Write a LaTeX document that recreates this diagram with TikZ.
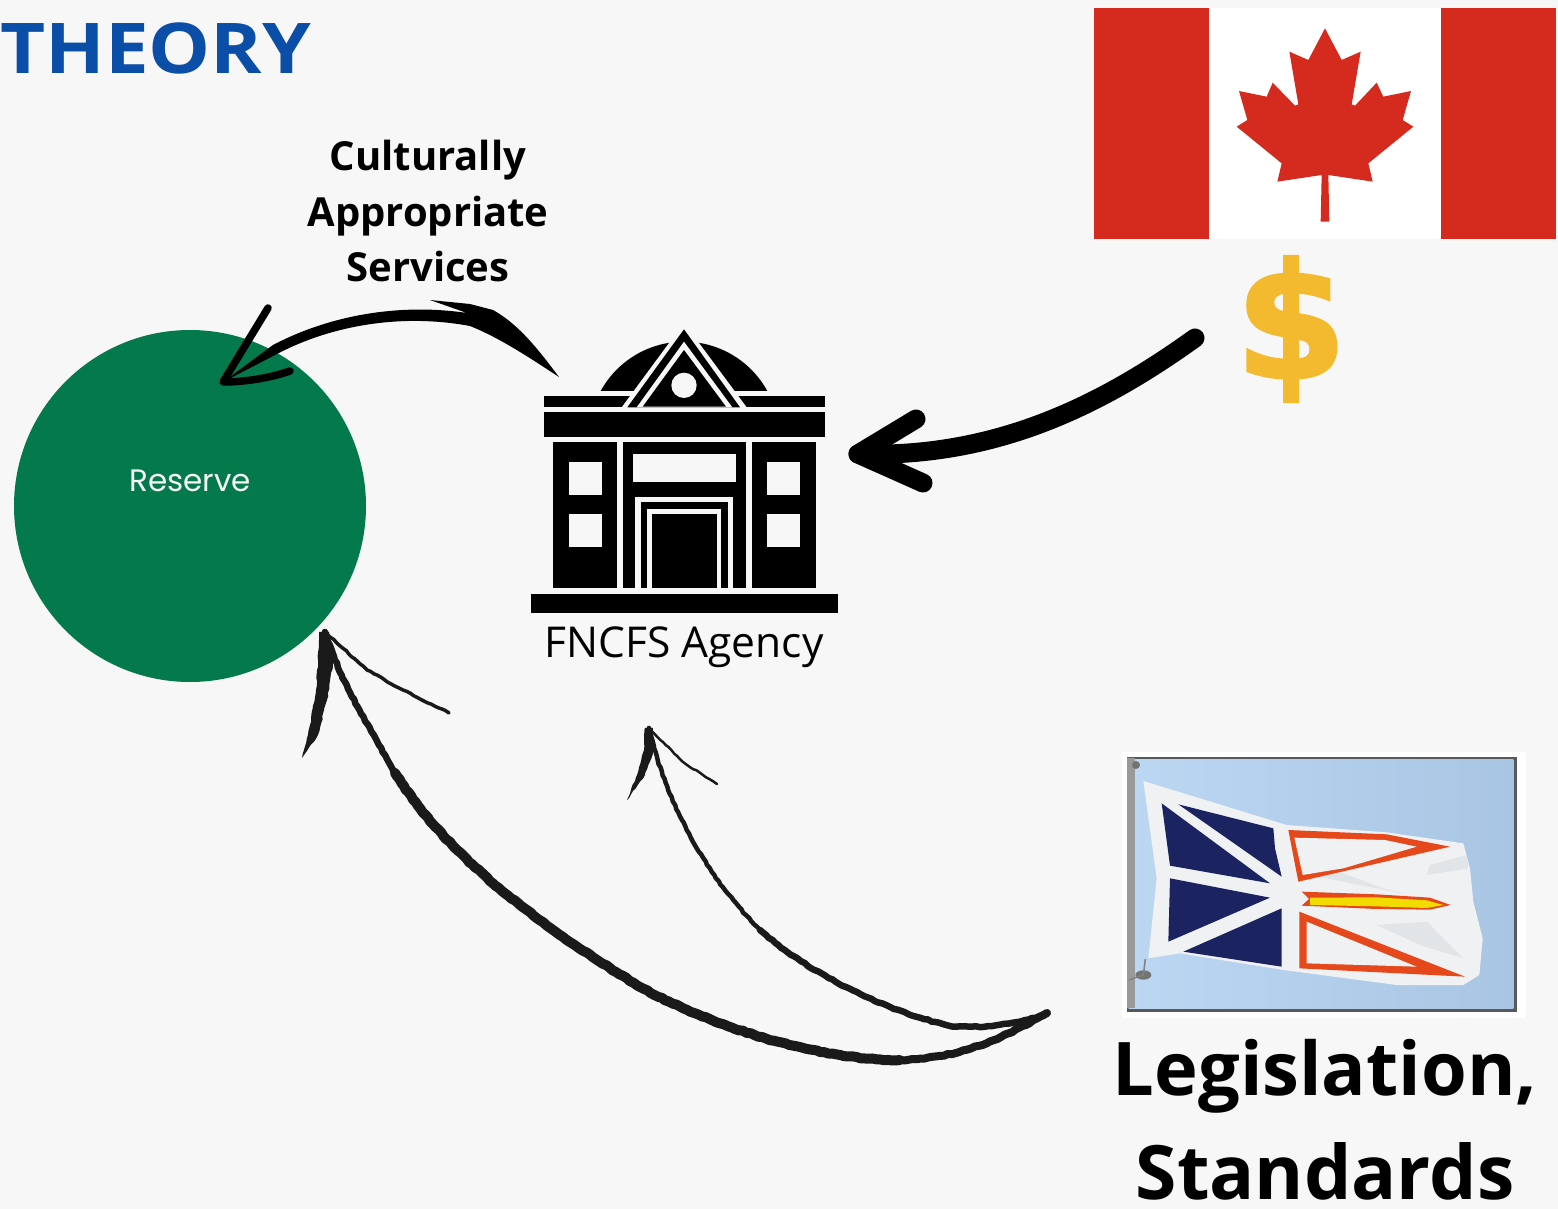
\documentclass[tikz,border=0pt]{standalone}
\usepackage{fontspec}
\setmainfont{Open Sans}
\newfontfamily\dollarfont[BoldFeatures={FakeBold=2}]{DejaVu Sans}
\newfontfamily\reservefont{Poppins}
\usetikzlibrary{decorations.pathmorphing}
\definecolor{bgc}{HTML}{F7F7F7}
\definecolor{greenc}{HTML}{047A4C}
\definecolor{bluec}{HTML}{0B4EA8}
\definecolor{redc}{HTML}{D52B1E}
\definecolor{goldc}{HTML}{F3BA2F}
\definecolor{navyc}{HTML}{1B2360}
\definecolor{orangec}{HTML}{E5481A}
\definecolor{yelc}{HTML}{F2DC00}
\definecolor{flagw}{HTML}{EFF1F2}
\definecolor{foldc}{HTML}{E2E5E8}
\definecolor{inkc}{HTML}{1A1A1A}
\definecolor{skya}{HTML}{BCD7F2}
\definecolor{skyb}{HTML}{A8C5E3}
\tikzset{
  label text/.style={inner sep=0pt,anchor=base,align=center,text=black},
  zoomA/.style={xshift=520pt,yshift=-320pt,x=0.33333pt,y=-0.33333pt},
  zoomB/.style={xshift=1110pt,yshift=-745pt,x=0.33333pt,y=-0.33333pt},
  zoomC/.style={xshift=1190pt,yshift=-10pt,x=0.33333pt,y=-0.33333pt},
  rough/.style={decorate,decoration={random steps,segment length=4pt,amplitude=.6pt}},
  brush/.style={draw=inkc,line cap=round,line join=round,rough},
  gap/.style={fill=bgc},
  heavy/.style={line width=19pt,line cap=round,line join=round}
}
\begin{document}
\begin{tikzpicture}[x=1pt,y=-1pt]
\useasboundingbox (0,0) rectangle (1558,1209);
\fill[bgc] (0,0) rectangle (1558,1209);

% Title
\node[label text,text=bluec,anchor=base west,font=\fontsize{70}{70}\selectfont\bfseries] (title) at (0,74) {\scalebox{1.115}[1]{THEORY}};

% Canadian flag
\fill[white] (1094,8) rectangle (1556,239);
\fill[redc] (1094,8) rectangle (1209,239);
\fill[redc] (1441,8) rectangle (1556,239);
\begin{scope}[zoomC]
\fill[redc] (405,55) -- (455,150) -- (512,125) -- (485,283) -- (495,287) -- (560,218) -- (580,260) -- (663,243) -- (638,330) -- (670,350) -- (535,460) -- (548,515) -- (415,495) -- (418,635) -- (392,635) -- (395,495) -- (262,515) -- (275,460) -- (140,350) -- (172,330) -- (147,243) -- (230,260) -- (248,218) -- (315,287) -- (325,283) -- (298,125) -- (355,150) -- cycle;
\end{scope}

% Dollar sign
\node[label text,text=goldc,font=\fontsize{160}{160}\selectfont\dollarfont\bfseries] (dollar) at (1291,378) {\$};

% Reserve
\node[circle,fill=greenc,minimum size=352pt,inner sep=0pt] (reserve) at (190,506) {};
\node[label text,text=bgc,font=\fontsize{31}{31}\selectfont\reservefont] (reservetext) at (190,491) {Reserve};

% Building
\begin{scope}[zoomA]
\begin{scope}
\clip (200,0) rectangle (800,212);
\fill[black] (492,350) circle[radius=285];
\end{scope}
\fill[black] (72,227) rectangle (914,260);
\fill[gap] (492,8) -- (680,262) -- (305,262) -- cycle;
\fill[black] (492,28) -- (660,262) -- (322,262) -- cycle;
\fill[gap] (492,65) -- (637,262) -- (350,262) -- cycle;
\fill[black] (492,90) -- (618,260) -- (368,260) -- cycle;
\fill[gap] (492,196) circle[radius=38];
\fill[black] (72,275) rectangle (914,350);
\fill[black] (98,366) rectangle (292,805);
\fill[black] (308,366) rectangle (678,805);
\fill[black] (695,366) rectangle (887,805);
\fill[black] (33,822) rectangle (953,880);
\fill[gap] (146,427) rectangle (245,524);
\fill[gap] (146,582) rectangle (245,681);
\fill[gap] (741,427) rectangle (841,524);
\fill[gap] (741,582) rectangle (841,681);
\fill[gap] (339,402) rectangle (648,487);
\fill[gap] (346,530) rectangle (638,805);
\fill[black] (362,546) rectangle (625,805);
\fill[gap] (382,567) rectangle (604,805);
\fill[black] (396,582) rectangle (590,805);
\end{scope}
\node[label text,font=\fontsize{42.5}{42.5}\selectfont] (agency) at (684,657) {FNCFS Agency};

% Culturally appropriate services
\node[label text,font=\fontsize{40}{40}\selectfont\bfseries] (cas1) at (428,171) {Culturally};
\node[label text,font=\fontsize{40}{40}\selectfont\bfseries] (cas2) at (428,226) {Appropriate};
\node[label text,font=\fontsize{40}{40}\selectfont\bfseries] (cas3) at (428,281) {Services};

% Newfoundland flag
\fill[white] (1122,752) rectangle (1526,1018);
\begin{scope}[zoomB]
\fill[black!65] (52,36) rectangle (1222,802);
\shade[left color=skya,right color=skyb] (56,42) rectangle (1210,790);
\fill[black!40] (52,40) rectangle (76,790);
\fill[black!55] (78,60) circle[radius=12];
\fill[black!55] (100,690) ellipse[x radius=24,y radius=14];
\draw[black!50,line width=1.5pt] (56,705) -- (100,690) -- (106,642);
\fill[flagw] (100,108) -- (530,240) -- (830,262) -- (1060,295) -- (1080,370) -- (1090,470) -- (1118,580) -- (1108,690) -- (1060,720) -- (860,720) -- (520,675) -- (210,625) -- (115,640) -- (140,400) -- cycle;
\fill[foldc] (960,360) -- (1070,330) -- (1075,370) -- (950,390) -- cycle;
\fill[foldc] (800,540) -- (950,530) -- (1060,640) -- (930,600) -- cycle;
\fill[foldc] (580,340) -- (820,430) -- (900,450) -- (600,390) -- cycle;
\fill[navyc] (155,175) -- (480,415) -- (180,362) -- cycle;
\fill[navyc] (205,178) -- (490,250) -- (495,310) -- (515,395) -- cycle;
\fill[navyc] (180,400) -- (480,458) -- (175,590) -- cycle;
\fill[navyc] (220,620) -- (515,490) -- (515,665) -- cycle;
\fill[orangec] (535,255) -- (830,268) -- (1020,305) -- (565,410) -- cycle;
\fill[flagw] (553,278) -- (825,285) -- (920,305) -- (700,370) -- (578,390) -- cycle;
\fill[orangec] (575,440) -- (800,448) -- (960,458) -- (1022,480) -- (960,494) -- (800,492) -- (575,482) -- (597,462) -- cycle;
\fill[yelc] (600,458) -- (800,457) -- (950,466) -- (1000,480) -- (950,489) -- (800,484) -- (600,480) -- cycle;
\fill[orangec] (568,500) -- (1065,695) -- (568,670) -- cycle;
\fill[flagw] (590,530) -- (920,665) -- (590,655) -- cycle;
\end{scope}
\node[label text,font=\fontsize{74}{74}\selectfont\bfseries] (legis) at (1325,1095) {Legislation,};
\node[label text,font=\fontsize{75}{75}\selectfont\bfseries] (stand) at (1325,1199) {Standards};

% Connector anchors
\coordinate (fundStart) at (1195,338);
\coordinate (fundEnd) at (858,454);
\coordinate (fundBarbA) at (916,419);
\coordinate (fundBarbB) at (923,483);
\coordinate (servStart) at (559,377);
\coordinate (servEnd) at (223,382);
\coordinate (servBarbA) at (268,308);
\coordinate (servBarbB) at (290,371);
\coordinate (lawStart) at (1047,1013);
\coordinate (lawEndA) at (325,632);
\coordinate (lawEndB) at (649,728);
\coordinate (bigA) at (900,1060);
\coordinate (bigB) at (640,987);
\coordinate (bigC) at (395,773);
\coordinate (smallA) at (947,1025);
\coordinate (smallB) at (760,930);

% Funding arrow
\draw[heavy] (fundStart) .. controls (1095,410) and (990,458) .. (fundEnd);
\draw[heavy] (fundBarbA) -- (fundEnd) -- (fundBarbB);

% Services arrow
\fill[black] (servStart) .. controls (540,352) and (520,325) .. (493,310)
  -- (470,304) -- (430,300) -- (467,313)
  .. controls (400,303) and (330,315) .. (273,345)
  -- (servEnd) -- (277,354)
  .. controls (330,326) and (400,313) .. (470,326)
  .. controls (500,338) and (530,358) .. (servStart) -- cycle;
\draw[line width=7.5pt,line cap=round,line join=round] (servBarbA) -- (servEnd) .. controls (245,382) and (270,378) .. (servBarbB);

% Legislation arrows
\draw[brush,line width=6.5pt] (bigC) .. controls (365,720) and (340,680) .. (lawEndA);
\draw[brush,line width=10pt] (bigA) .. controls (820,1060) and (720,1030) .. (bigB)
  .. controls (540,925) and (450,860) .. (bigC);
\draw[brush,line width=8pt] (lawStart) .. controls (1000,1040) and (960,1058) .. (bigA);
\draw[brush,line width=4.5pt] (smallB) .. controls (705,875) and (665,800) .. (lawEndB);
\draw[brush,line width=6.5pt] (lawStart) .. controls (1020,1025) and (970,1030) .. (smallA)
  .. controls (890,1012) and (810,975) .. (smallB);
\fill[inkc,rough] (319,632) -- (329,632) -- (333,665) -- (327,700) -- (318,735) -- (302,758) -- (310,725) -- (316,690) -- (318,660) -- cycle;
\draw[brush,line width=3.5pt] (lawEndA) -- (367,670) -- (403,690) -- (449,713);
\fill[inkc,rough] (645,728) -- (653,728) -- (654,750) -- (645,775) -- (627,800) -- (637,775) -- (644,750) -- cycle;
\draw[brush,line width=2.5pt] (lawEndB) -- (683,762) -- (717,784);
\end{tikzpicture}
\end{document}
